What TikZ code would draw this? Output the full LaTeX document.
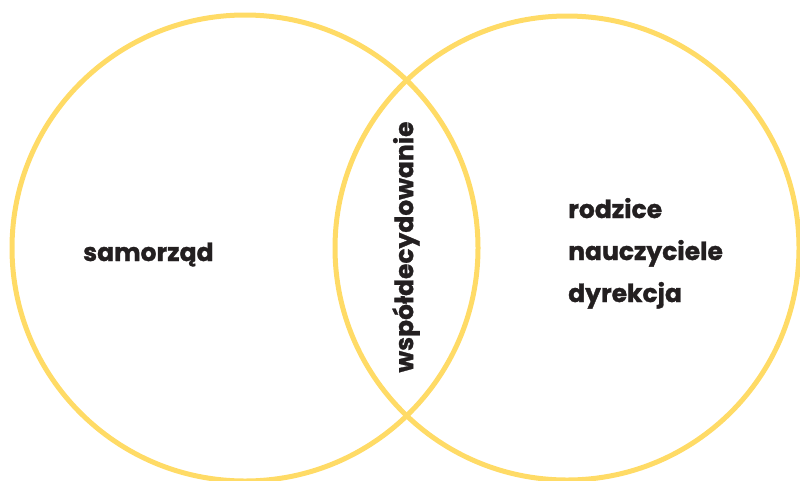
\documentclass[tikz,border=0pt]{standalone}
\usepackage{fontspec}
\setmainfont{Poppins}[BoldFeatures={FakeBold=1.2}]
\usepackage{tikz}
\usetikzlibrary{positioning}
\definecolor{kolo}{RGB}{255,219,102}
\definecolor{napis}{RGB}{35,31,32}

\tikzset{
    kolko/.style={draw=kolo, line width=5pt},
    slowo/.style={text=napis, font=\bfseries\fontsize{25}{30}\selectfont, inner sep=0pt}
}

\begin{document}
\begin{tikzpicture}[x=1pt, y=-1pt]
    \useasboundingbox (0,0) rectangle (800,480);
    \clip (0,0) rectangle (800,480);

    % dwa kola
    \draw[kolko] (245,248) circle (233);
    \draw[kolko] (567,248) circle (232);

    % lewe kolo
    \node[slowo, anchor=base west] (samorzad) at (83,261) {samorząd};

    % czesc wspolna
    \node[slowo, rotate=90] (wspol) at (406,247) {współdecydowanie};

    % prawe kolo
    \node[slowo, anchor=base west] (rodzice) at (568,218) {rodzice};
    \node[slowo, below=42pt of rodzice.base west, anchor=base west] (nauczyciele) {nauczyciele};
    \node[slowo, below=42pt of nauczyciele.base west, anchor=base west] (dyrekcja) {dyrekcja};
\end{tikzpicture}
\end{document}
